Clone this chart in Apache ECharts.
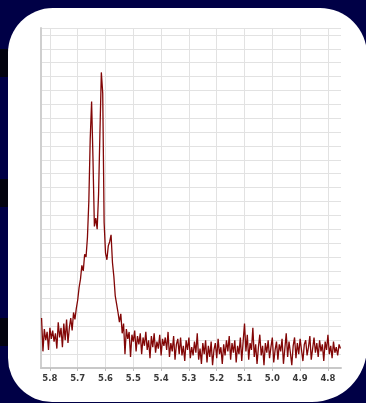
<!DOCTYPE html>
<html>
<head>
<meta charset="utf-8">
<title>1H NMR 4.75–5.83 ppm</title>
<script src="https://cdn.jsdelivr.net/npm/echarts@6/dist/echarts.min.js"></script>
<style>
  html, body { margin: 0; padding: 0; background: #000046; }
  #chart { width: 366px; height: 403px; }
</style>
</head>
<body>
<div id="chart"></div>
<script>
// Spectrum sampling: first point and spacing, in ppm (descending shift)
const ppmStart = 5.830;
const ppmStep = 0.005;

// Intensity (arbitrary units, one grid division = 1)
const intensity = [
  3.6, 1.2, 2.8, 2.0, 2.6, 1.3, 2.9, 2.1, 2.7, 1.9,
  2.5, 1.4, 3.3, 2.2, 2.9, 1.5, 3.2, 2.0, 3.5, 1.8,
  2.9, 3.6, 2.7, 4.0, 3.5, 4.3, 4.9, 5.8, 6.4, 7.4,
  7.0, 8.2, 8.0, 9.4, 12.0, 16.5, 19.2, 15.0, 10.2, 10.8,
  10.0, 12.5, 17.0, 21.3, 19.8, 10.5, 8.3, 7.8, 8.8, 9.1,
  9.6, 7.6, 6.6, 5.2, 4.6, 4.0, 3.3, 3.9, 2.5, 3.2,
  1.0, 2.8, 2.1, 2.6, 0.8, 2.4, 1.9, 2.7, 1.2, 2.3,
  1.7, 2.5, 1.0, 2.2, 1.6, 2.6, 1.3, 2.0, 0.7, 2.3,
  1.5, 2.5, 1.1, 1.9, 1.4, 2.4, 0.9, 2.1, 1.6, 2.2,
  1.3, 2.6, 0.8, 1.8, 1.2, 2.3, 0.6, 1.7, 2.1, 1.0,
  2.2, 0.9, 1.6, 0.5, 2.0, 1.3, 2.2, 0.7, 1.5, 0.9,
  1.9, 1.1, 2.5, 0.6, 1.4, 0.3, 1.8, 1.0, 2.0, 0.4,
  1.6, 0.8, 1.9, 0.2, 1.3, 1.8, 0.7, 2.1, 1.0, 1.5,
  0.3, 1.7, 0.9, 2.0, 1.2, 2.3, 0.6, 1.8, 1.1, 2.0,
  0.4, 1.6, 1.0, 2.2, 0.5, 1.9, 3.2, 1.2, 2.4, 0.6,
  1.8, 1.3, 2.9, 0.8, 1.7, 0.3, 1.5, 2.4, 0.9, 1.6,
  0.2, 1.8, 1.1, 2.0, 0.7, 1.5, 2.2, 0.4, 1.3, 1.9,
  0.6, 1.7, 1.2, 2.1, 0.3, 1.4, 2.5, 0.8, 1.9, 1.1,
  0.2, 1.6, 2.2, 0.7, 1.8, 1.0, 2.1, 1.3, 0.5, 1.7,
  2.0, 0.9, 1.5, 2.3, 0.6, 1.4, 2.2, 1.1, 1.8, 0.8,
  2.0, 1.2, 1.7, 0.5, 1.9, 1.3, 2.4, 1.0, 1.6, 0.7,
  1.9, 1.1, 1.5, 0.9, 1.7, 1.4
];

// Chemical-shift tick labels (ppm)
const shiftTicks = [4.8, 4.9, 5.0, 5.1, 5.2, 5.3, 5.4, 5.5, 5.6, 5.7, 5.8];

const spectrum = intensity.map((v, i) => [+(ppmStart - i * ppmStep).toFixed(3), v]);

const chart = echarts.init(document.getElementById('chart'), null, { renderer: 'canvas' });

chart.setOption({
  animation: false,
  backgroundColor: '#000046',
  graphic: [
    { type: 'rect', z: -20, shape: { x: 0, y: 49, width: 8, height: 28 }, style: { fill: '#03030f' } },
    { type: 'rect', z: -20, shape: { x: 0, y: 179, width: 8, height: 28 }, style: { fill: '#03030f' } },
    { type: 'rect', z: -20, shape: { x: 0, y: 318, width: 8, height: 28 }, style: { fill: '#03030f' } },
    { type: 'rect', z: -10, shape: { x: 8, y: 8, width: 359, height: 394, r: [45, 47, 55, 44] }, style: { fill: '#ffffff' } }
  ],
  grid: { left: 41, right: 25, top: 28, bottom: 35, containLabel: false },
  xAxis: {
    type: 'value',
    inverse: true,
    min: 4.753,
    max: 5.832,
    axisLine: { show: true, lineStyle: { color: '#c8c8c8', width: 2 } },
    axisTick: { show: true, length: 3, customValues: shiftTicks, lineStyle: { color: '#bdbdbd' } },
    axisLabel: {
      customValues: shiftTicks,
      margin: 6,
      fontFamily: 'DejaVu Sans',
      fontSize: 8.5,
      fontWeight: 'bold',
      color: '#3a3a3a',
      formatter: v => v.toFixed(1)
    },
    splitLine: { show: true, lineStyle: { color: '#e2e2e2', width: 1 } }
  },
  yAxis: {
    type: 'value',
    min: 0,
    max: 24.5,
    interval: 1,
    axisLine: { show: true, lineStyle: { color: '#cfcfcf', width: 2 } },
    axisTick: { show: false },
    axisLabel: { show: false },
    splitLine: { show: true, lineStyle: { color: '#e2e2e2', width: 1 } }
  },
  series: [{
    type: 'line',
    data: spectrum,
    showSymbol: false,
    symbol: 'none',
    clip: true,
    lineStyle: { color: '#820606', width: 1.3 },
    z: 3
  }]
});
</script>
</body>
</html>
